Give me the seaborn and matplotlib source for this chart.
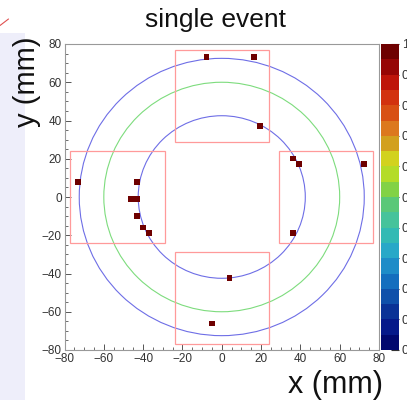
import numpy as np
import pandas as pd
import matplotlib
matplotlib.use("Agg")
import matplotlib.pyplot as plt
import seaborn as sns
from matplotlib.patches import Circle, Rectangle
from matplotlib.colors import LinearSegmentedColormap, Normalize
from matplotlib.cm import ScalarMappable
from matplotlib.ticker import MultipleLocator, FormatStrFormatter

# ---- data ----
hit_x = [-7.7, 16.4, 19.3, -73.1, -43.0, -46.2, -43.3, -43.0, -39.9, -37.0,
         36.2, 39.3, 72.3, 36.2, 4.0, -4.8]
hit_y = [73.3, 73.3, 37.3, 8.0, 8.0, -1.0, -1.0, -10.1, -15.9, -19.0,
         20.2, 17.2, 17.2, -19.0, -42.2, -66.2]
hit_w = [1.0] * len(hit_x)

ring_radii = [42.5, 60.0, 72.5]
ring_colors = ["#6e6ee6", "#7ddc7d", "#6e6ee6"]

# detector boxes: x0, y0, width, height
box_x0 = [-24.0, -24.0, -77.0, 29.0]
box_y0 = [29.0, -77.0, -24.0, -24.0]
box_w = [48.0, 48.0, 48.0, 48.0]
box_h = [48.0, 48.0, 48.0, 48.0]

palette_colors = ["#00086e", "#05198a", "#0a3296", "#0f50aa", "#146ebe",
                  "#1e8cc8", "#28a8c8", "#32bab4", "#46c39b", "#5ac878",
                  "#82d246", "#b4dc28", "#d2d21e", "#d2a01e", "#dc781e",
                  "#d85014", "#d2320f", "#be140a", "#960505", "#6e0000"]

title = "single event"
xlabel = "x (mm)"
ylabel = "y (mm)"
cbar_ticks = [0.0, 0.1, 0.2, 0.3, 0.4, 0.5, 0.6, 0.7, 0.8, 0.9, 1.0]

# ---- style ----
sns.set_theme(style="white")
plt.rcParams["font.family"] = ["Liberation Sans", "DejaVu Sans"]

W, H = 407, 400
fig = plt.figure(figsize=(W / 100, H / 100), dpi=100)
fig.patch.set_facecolor("white")

# slide background strip on the left
fig.patches.append(Rectangle((0, 0), 25 / W, (H - 33) / H, transform=fig.transFigure,
                             facecolor="#eeeefa", edgecolor="none", zorder=-10))
fig.lines.append(plt.Line2D([0, 8.5 / W], [1 - 25.5 / H, 1 - 19 / H],
                            transform=fig.transFigure, color="#e05050", lw=0.8))

ax_l, ax_r = 64.5, 379.0
ax_t, ax_b = 44.0, 350.0
ax = fig.add_axes([ax_l / W, 1 - ax_b / H, (ax_r - ax_l) / W, (ax_b - ax_t) / H])
ax.set_facecolor("white")

cmap = LinearSegmentedColormap.from_list("rb", palette_colors, N=20)
norm = Normalize(0, 1)

df = pd.DataFrame({"x": hit_x, "y": hit_y, "w": hit_w})

for r, c in zip(ring_radii, ring_colors):
    ax.add_patch(Circle((0, 0), r, fill=False, edgecolor=c, lw=0.8, zorder=2))
for x0, y0, w, h in zip(box_x0, box_y0, box_w, box_h):
    ax.add_patch(Rectangle((x0, y0), w, h, fill=False, edgecolor="#ff9a9a", lw=0.9, zorder=2))

sns.scatterplot(data=df, x="x", y="y", hue="w", palette=cmap, hue_norm=(0, 1),
                marker="s", s=17, linewidth=0, legend=False, ax=ax, zorder=3)

ax.set_xlim(-80, 80)
ax.set_ylim(-80, 80)
ax.set_xlabel("")
ax.set_ylabel("")
ax.xaxis.set_major_locator(MultipleLocator(20))
ax.xaxis.set_minor_locator(MultipleLocator(5))
ax.yaxis.set_major_locator(MultipleLocator(20))
ax.yaxis.set_minor_locator(MultipleLocator(5))
ax.tick_params(which="both", direction="in", bottom=True, left=True, top=False, right=False,
               colors="#555555", labelcolor="#333333")
ax.tick_params(which="major", length=4.5, width=0.7, labelsize=8.5, pad=2)
ax.tick_params(which="minor", length=2.3, width=0.6)
for s in ax.spines.values():
    s.set_color("#999999")
    s.set_linewidth(0.8)
    s.set_visible(True)

# colorbar
cax = fig.add_axes([381 / W, 1 - ax_b / H, 18 / W, (ax_b - ax_t) / H])
cb = fig.colorbar(ScalarMappable(norm=norm, cmap=cmap), cax=cax, ticks=cbar_ticks)
cb.outline.set_visible(False)
cax.yaxis.set_major_formatter(FormatStrFormatter("%g"))
cax.tick_params(direction="in", length=6, width=0.8, colors="#333333",
                labelsize=9, pad=2)

fig.text(216 / W, 1 - 26.5 / H, title, ha="center", va="baseline", fontsize=19, color="#111111")
fig.text(27 / W, 1 - 82 / H, ylabel, rotation=90, ha="center", va="center", fontsize=21, color="#111111")
fig.text(383 / W, 1 - 393 / H, xlabel, ha="right", va="baseline", fontsize=22, color="#111111")

fig.savefig("out.png", dpi=100)
